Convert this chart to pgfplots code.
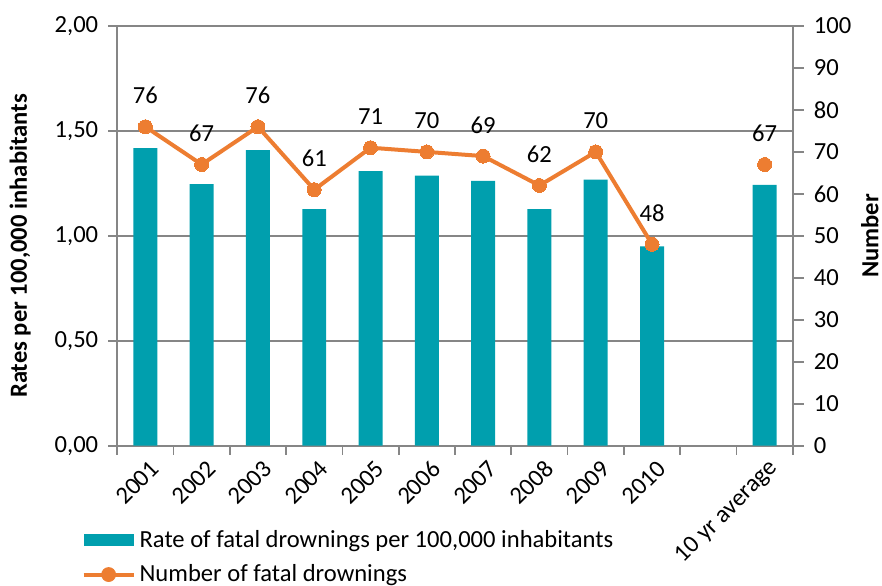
\documentclass[border=0pt]{standalone}
\usepackage{pgfplots}
\pgfplotsset{compat=1.18}
\usepackage{fontspec}
\setmainfont{Carlito}
\definecolor{barteal}{HTML}{009FAE}
\definecolor{lineorange}{HTML}{ED7D31}
\definecolor{axgray}{HTML}{868686}
\newcommand{\cfont}{\fontsize{12.3}{14.8}\selectfont}

\begin{document}
\begin{tikzpicture}[font=\cfont]
\begin{axis}[
  at={(0,0)}, anchor=south west,
  scale only axis, width=338pt, height=210pt,
  xmin=-0.5, xmax=11.5, ymin=0, ymax=2,
  axis x line*=bottom, axis y line*=left,
  axis line style={draw=axgray, line width=0.9pt, -},
  xtick={-0.5,0.5,...,11.5},
  x tick label as interval,
  xticklabels={2001,2002,2003,2004,2005,2006,2007,2008,2009,2010,,10 yr average},
  xticklabel style={rotate=45, anchor=east, inner sep=1pt, yshift=-7pt, xshift=1pt, font=\cfont},
  ytick={0,0.5,1,1.5,2},
  ymajorgrids, grid style={draw=axgray, line width=0.9pt},
  tick align=outside, major tick length=4.5pt,
  tick style={draw=axgray, line width=0.9pt},
  yticklabel style={font=\cfont, xshift=-1.5pt, /pgf/number format/.cd, fixed, fixed zerofill, precision=2, use comma},
  /pgf/number format/assume math mode=true,
  every axis y label/.style={at={(axis description cs:-0.1435,0.476)}, rotate=90, anchor=center, font=\cfont\bfseries},
  ylabel={Rates per 100,000 inhabitants},
  legend cell align=left,
  legend style={draw=none, fill=none, at={(axis description cs:0,0)}, anchor=north west,
    xshift=-21pt, yshift=-38pt, row sep=3.2pt, font=\cfont},
]
\addplot[ybar, bar width=12pt, fill=barteal, draw=none,
  legend image code/.code={\fill[barteal] (0pt,-3pt) rectangle (25pt,3pt);}]
  coordinates {(0,1.418) (1,1.246) (2,1.409) (3,1.127) (4,1.309) (5,1.287) (6,1.262) (7,1.127) (8,1.268) (9,0.950) (11,1.243)};
\addlegendentry{Rate of fatal drownings per 100,000 inhabitants}
\addlegendimage{legend image code/.code={\draw[lineorange, line width=2pt] (0pt,0pt) -- (25pt,0pt); \fill[lineorange] (12.5pt,0pt) circle (3.5pt);}}
\addlegendentry{Number of fatal drownings}
\end{axis}
\begin{axis}[
  at={(0,0)}, anchor=south west,
  scale only axis, width=338pt, height=210pt,
  xmin=-0.5, xmax=11.5, ymin=0, ymax=100,
  axis x line=none, axis y line*=right, xtick=\empty,
  axis line style={draw=axgray, line width=0.9pt, -},
  ytick={0,10,...,100},
  yticklabel style={font=\cfont, xshift=1.5pt},
  tick align=outside, major tick length=5.5pt,
  tick style={draw=axgray, line width=0.9pt},
  /pgf/number format/assume math mode=true,
  every axis y label/.style={at={(axis description cs:1.114,0.5)}, rotate=90, anchor=center, font=\cfont\bfseries},
  ylabel={Number},
]
\addplot[lineorange, line width=2pt, mark=*, mark size=3.5pt, mark options={fill=lineorange, draw=lineorange, line width=0pt},
  nodes near coords, every node near coord/.append style={anchor=center, yshift=15.5pt, text=black, font=\cfont}]
  coordinates {(0,76) (1,67) (2,76) (3,61) (4,71) (5,70) (6,69) (7,62) (8,70) (9,48)};
\addplot[only marks, lineorange, mark=*, mark size=3.5pt, mark options={fill=lineorange, draw=lineorange, line width=0pt},
  nodes near coords, every node near coord/.append style={anchor=center, yshift=15.5pt, text=black, font=\cfont}]
  coordinates {(11,67)};
\end{axis}
\pgfresetboundingbox
\path (-58.65pt,-70pt) rectangle (382.65pt,223pt);
\end{tikzpicture}
\end{document}
